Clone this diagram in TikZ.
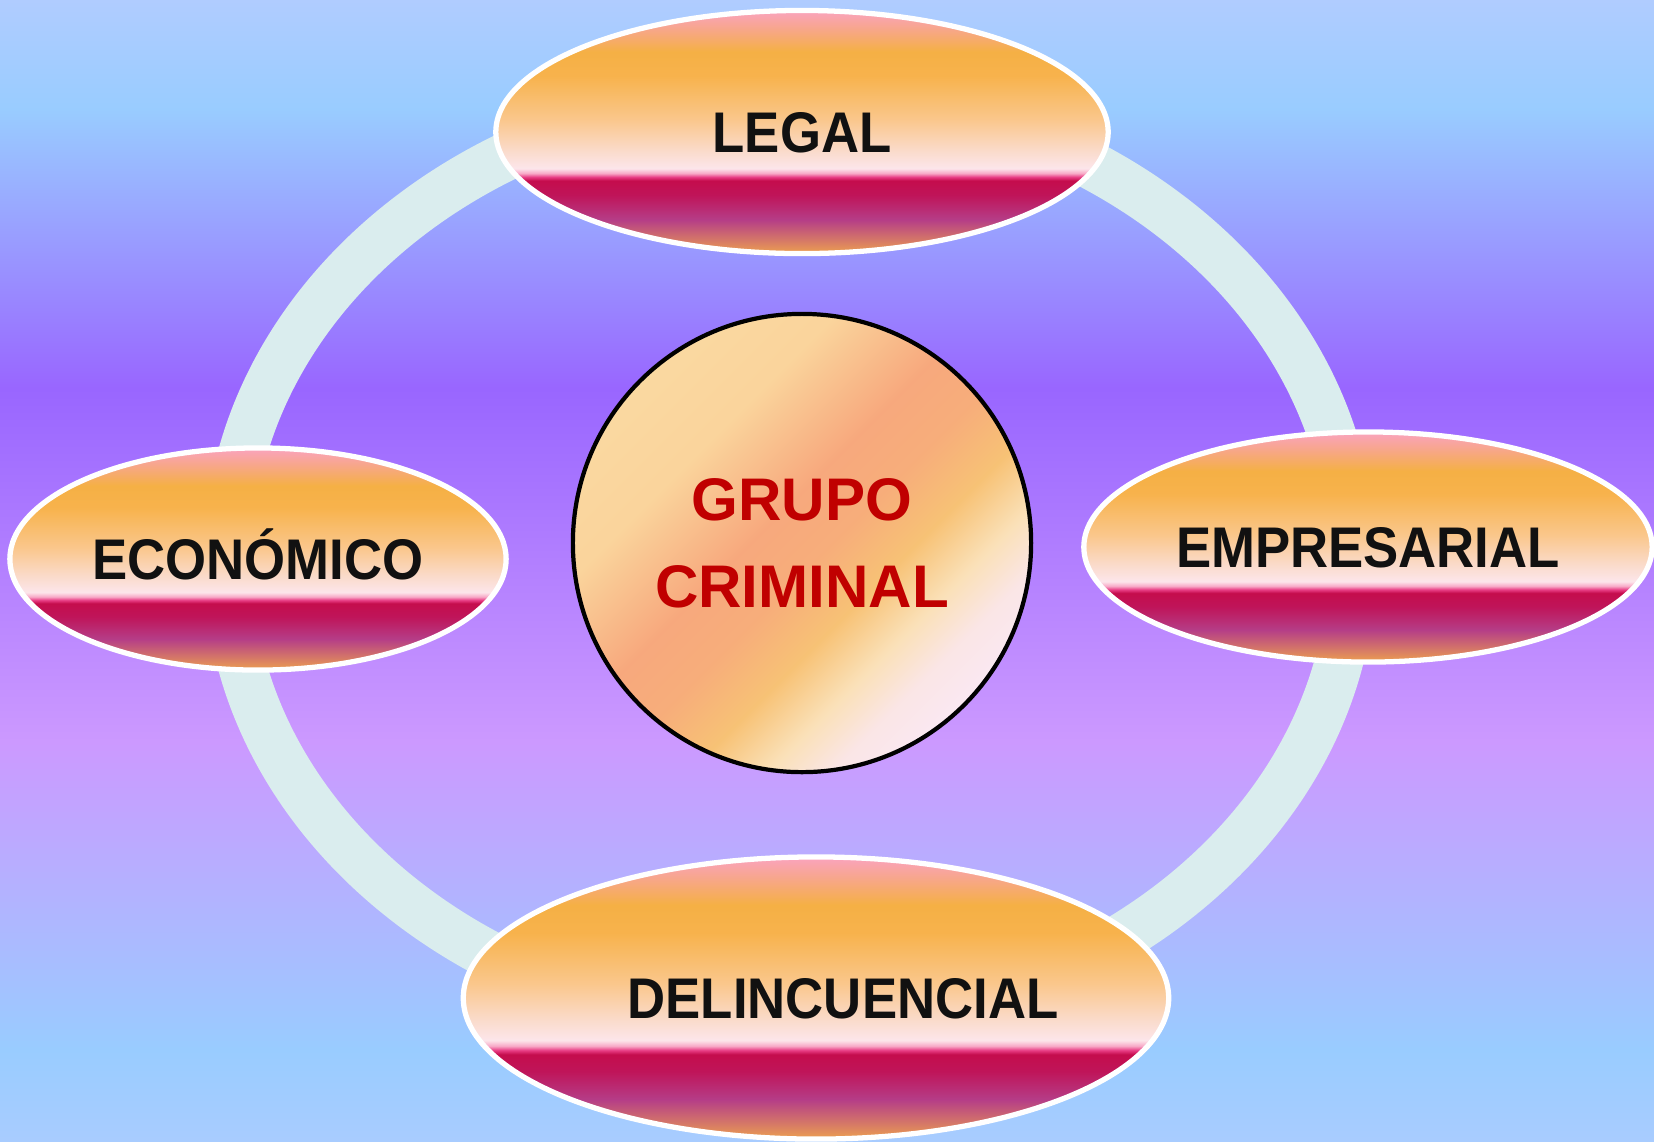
\documentclass[tikz,border=0pt]{standalone}
\usepackage{fontspec}
\setmainfont{Liberation Sans}
\newfontfamily\ovalfont{Liberation Sans}[FakeStretch=0.92]
\usetikzlibrary{shapes.geometric}

\definecolor{ringcol}{HTML}{DAEDEE}
\definecolor{inkcol}{HTML}{111111}
\definecolor{redcol}{HTML}{C00000}

% page background, top light blue -> violet -> lilac -> light blue
\pgfdeclareverticalshading{backdrop}{100bp}{
rgb(0bp)=(0.66,0.80,1); rgb(25bp)=(0.66,0.80,1);
rgb(29bp)=(0.60,0.80,1); rgb(42.5bp)=(0.80,0.60,1);
rgb(58bp)=(0.60,0.40,1); rgb(70.2bp)=(0.60,0.80,1);
rgb(75bp)=(0.69,0.80,1); rgb(100bp)=(0.69,0.80,1)}

% the oval fill, bottom to top
\pgfdeclareverticalshading{oval}{100bp}{
rgb(0bp)=(0.93,0.63,0.31); rgb(25bp)=(0.93,0.63,0.31);
rgb(28bp)=(0.83,0.46,0.41); rgb(32bp)=(0.71,0.24,0.53);
rgb(37bp)=(0.75,0.08,0.35); rgb(40bp)=(0.77,0.05,0.30);
rgb(40.75bp)=(0.91,0.24,0.52); rgb(41.5bp)=(0.97,0.66,0.78);
rgb(42.5bp)=(0.99,0.90,0.92); rgb(46bp)=(0.98,0.86,0.80);
rgb(52.5bp)=(0.98,0.78,0.55); rgb(61.5bp)=(0.97,0.70,0.30);
rgb(66.5bp)=(0.96,0.69,0.27); rgb(71.5bp)=(0.97,0.65,0.56);
rgb(75bp)=(0.98,0.64,0.75); rgb(100bp)=(0.98,0.64,0.75)}

% the centre disc, along its diagonal
\pgfdeclarehorizontalshading{blob}{100bp}{
rgb(0bp)=(0.98,0.85,0.63); rgb(25bp)=(0.98,0.85,0.63);
rgb(35bp)=(0.98,0.83,0.61); rgb(46bp)=(0.97,0.66,0.49);
rgb(52.5bp)=(0.97,0.68,0.48); rgb(59bp)=(0.97,0.76,0.46);
rgb(65bp)=(0.98,0.88,0.72); rgb(70bp)=(0.98,0.90,0.90);
rgb(75bp)=(0.98,0.91,0.95); rgb(100bp)=(0.98,0.91,0.95)}

\begin{document}
\begin{tikzpicture}[x=0.01cm,y=-0.01cm]
\tikzstyle{oval} = [ellipse, draw=white, line width=1.5pt, shading=oval,
inner sep=0pt, text=inkcol, text height=11.7pt, text depth=0pt,
font=\ovalfont\bfseries\fontsize{16.3}{19}\selectfont]
\tikzstyle{hub} = [circle, draw=black, line width=1.2pt, shading=blob,
shading angle=-45, minimum size=4.58cm, inner sep=0pt, align=center,
text=redcol, font=\bfseries\fontsize{17.1}{24.75}\selectfont]
\tikzstyle{ring} = [draw=ringcol, line width=13.7pt]

\useasboundingbox (0,0) rectangle (1654,1141);
\shade[shading=backdrop] (0,0) rectangle (1654,1141);
% ring behind everything
\path[ring] (790,560) ellipse [x radius=5.62cm, y radius=4.67cm];
% outer ovals
\node [oval, minimum width=6.12cm, minimum height=2.43cm] (legal) at (802,132) {LEGAL};
\node [oval, minimum width=4.96cm, minimum height=2.22cm] (economico) at (258,559) {ECONÓMICO};
\node [oval, minimum width=5.68cm, minimum height=2.30cm] (empresarial) at (1368,547) {EMPRESARIAL};
\node [oval, minimum width=7.05cm, minimum height=2.82cm] (delincuencial) at (816,998) {\hspace*{0.54cm}DELINCUENCIAL};
% centre
\node [hub] (grupo) at (802,543) {GRUPO\\CRIMINAL};
\end{tikzpicture}
\end{document}
